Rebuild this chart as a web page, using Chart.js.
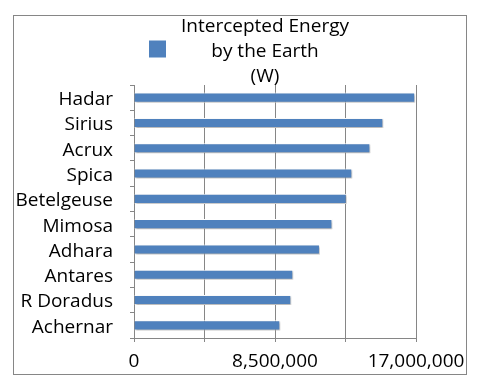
<!DOCTYPE html>
<html>
<head>
<meta charset="utf-8">
<script src="https://cdn.jsdelivr.net/npm/chart.js@4.4.1/dist/chart.umd.min.js"></script>
<style>
  body { margin: 0; background: #fff; }
  #wrap { width: 481px; height: 385px; position: relative; }
</style>
</head>
<body>
<div id="wrap"><canvas id="graph" width="481" height="385"></canvas></div>
<script>
const stars = ['Hadar', 'Sirius', 'Acrux', 'Spica', 'Betelgeuse', 'Mimosa', 'Adhara', 'Antares', 'R Doradus', 'Achernar'];
const energy = [16950000, 15030000, 14250000, 13160000, 12820000, 11960000, 11210000, 9600000, 9480000, 8820000];
const seriesName = ['Intercepted Energy', 'by the Earth', '(W)'];
const xTicks = [0, 4250000, 8500000, 12750000, 17000000];
const xTickLabels = ['0', '', '8,500,000', '', '17,000,000'];

const gray = '#868686';
const blue = '#4F81BD';
const font = 'Open Sans';

// outer frame + legend box
const frame = {
    id: 'frame',
    beforeDraw(chart) {
        const ctx = chart.ctx;
        ctx.save();
        ctx.strokeStyle = gray;
        ctx.lineWidth = 1;
        ctx.strokeRect(13.5, 15.5, 453, 359);
        ctx.restore();
    },
    afterDraw(chart) {
        const t = chart.titleBlock;
        if (!t) return;
        const ctx = chart.ctx;
        const cx = (t.left + t.right) / 2;
        const midY = t.top + 14 + 25 * 1.5;
        ctx.save();
        ctx.fillStyle = blue;
        ctx.fillRect(cx - 116, midY - 11, 17, 17);
        ctx.restore();
    }
};

const shadow = {
    id: 'shadow',
    beforeDatasetsDraw(chart) {
        const ctx = chart.ctx;
        ctx.save();
        ctx.shadowColor = 'rgba(0,0,0,0.3)';
        ctx.shadowBlur = 2;
        ctx.shadowOffsetX = 1;
        ctx.shadowOffsetY = 1.5;
    },
    afterDatasetsDraw(chart) {
        chart.ctx.restore();
    }
};

const ctx = document.getElementById('graph').getContext('2d');
new Chart(ctx, {
    type: 'bar',
    data: {
        labels: stars,
        datasets: [{
            label: seriesName.join(' '),
            data: energy,
            backgroundColor: blue,
            borderColor: '#ffffff',
            borderWidth: 1,
            categoryPercentage: 1,
            barPercentage: 0.4
        }]
    },
    options: {
        indexAxis: 'y',
        responsive: false,
        animation: false,
        // title is centred over 10..520 -> x = 265
        layout: { padding: { left: 10, right: -39, top: 0, bottom: 0 } },
        plugins: {
            legend: { display: false },
            tooltip: { enabled: false },
            title: {
                display: true,
                text: seriesName,
                color: '#000',
                font: { family: font, size: 19, weight: 'normal', lineHeight: '25px' },
                padding: { top: 14, bottom: -4 }
            }
        },
        scales: {
            x: {
                type: 'linear',
                min: 0,
                max: 17000000,
                afterBuildTicks(scale) {
                    scale.ticks = xTicks.map(v => ({ value: v }));
                },
                afterFit(scale) { scale.height = 47; },
                ticks: {
                    autoSkip: false,
                    maxRotation: 0,
                    padding: 8,
                    color: '#000',
                    font: { family: font, size: 19 },
                    callback: (v, i) => xTickLabels[i]
                },
                grid: { color: gray, tickLength: 4 },
                border: { color: gray }
            },
            y: {
                afterFit(scale) { scale.width = 124; },
                ticks: {
                    autoSkip: false,
                    padding: 17,
                    labelOffset: 2,
                    color: '#000',
                    font: { family: font, size: 19 }
                },
                grid: { color: gray, drawOnChartArea: false, tickLength: 4, offset: true },
                border: { color: gray }
            },
            pad: {
                type: 'linear',
                position: 'right',
                display: true,
                grid: { display: false },
                border: { display: false },
                ticks: { display: false },
                afterFit(scale) { scale.width = 104; }
            }
        }
    },
    plugins: [frame, shadow]
});
</script>
</body>
</html>
